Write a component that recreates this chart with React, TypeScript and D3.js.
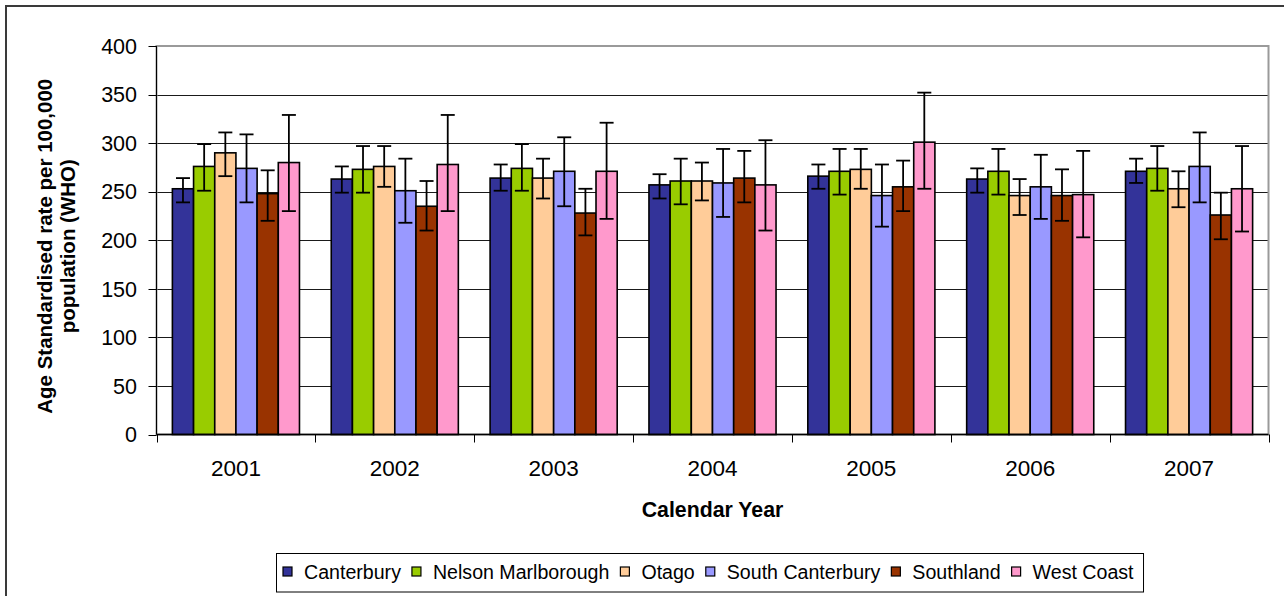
import React, { useEffect, useRef } from 'react';
import * as d3 from 'd3';

const years = ['2001', '2002', '2003', '2004', '2005', '2006', '2007'];
const seriesNames = ['Canterbury', 'Nelson Marlborough', 'Otago', 'South Canterbury', 'Southland', 'West Coast'];
const seriesColors = ['#333399', '#99CC00', '#FFCC99', '#9999FF', '#993300', '#FF99CC'];

const canterbury = [253, 263, 264, 257, 266, 263, 271];
const canterburyLow = [239, 249, 251, 243, 253, 249, 259];
const canterburyHigh = [264, 276, 278, 268, 278, 274, 284];

const nelsonMarlborough = [276, 273, 274, 261, 271, 271, 274];
const nelsonMarlboroughLow = [251, 249, 251, 237, 247, 247, 251];
const nelsonMarlboroughHigh = [299, 297, 299, 284, 294, 294, 297];

const otago = [290, 276, 264, 261, 273, 246, 253];
const otagoLow = [266, 255, 243, 241, 253, 226, 234];
const otagoHigh = [311, 297, 284, 280, 294, 263, 271];

const southCanterbury = [274, 251, 271, 259, 246, 255, 276];
const southCanterburyLow = [239, 218, 235, 224, 214, 222, 239];
const southCanterburyHigh = [309, 284, 306, 294, 278, 288, 311];

const southland = [248, 235, 228, 264, 255, 246, 226];
const southlandLow = [220, 210, 205, 239, 230, 220, 201];
const southlandHigh = [272, 261, 253, 292, 282, 273, 249];

const westCoast = [280, 278, 271, 257, 301, 247, 253];
const westCoastLow = [230, 230, 222, 210, 253, 203, 209];
const westCoastHigh = [329, 329, 321, 303, 352, 292, 297];

const yTicks = [0, 50, 100, 150, 200, 250, 300, 350, 400];

const seriesValues = [canterbury, nelsonMarlborough, otago, southCanterbury, southland, westCoast];
const seriesLow = [canterburyLow, nelsonMarlboroughLow, otagoLow, southCanterburyLow, southlandLow, westCoastLow];
const seriesHigh = [canterburyHigh, nelsonMarlboroughHigh, otagoHigh, southCanterburyHigh, southlandHigh, westCoastHigh];

const FONT = 'Liberation Sans, Arial, Helvetica, sans-serif';

export default function App() {
  const ref = useRef<SVGSVGElement>(null);

  useEffect(() => {
    const svg = d3.select(ref.current);
    svg.selectAll('*').remove();

    const left = 156.5, right = 1268.5, top = 46, bottom = 434.5;

    const x0 = d3.scaleBand<string>().domain(years).range([left, right]).paddingInner(0).paddingOuter(0);
    const x1 = d3.scaleBand<string>().domain(seriesNames).range([0, x0.bandwidth()]).paddingInner(0).paddingOuter(0.75);
    const y = d3.scaleLinear().domain([0, 400]).range([bottom, top]);

    svg.append('rect').attr('x', 0).attr('y', 0).attr('width', 1284).attr('height', 596).attr('fill', '#fff');
    // outer chart border
    svg.append('rect').attr('x', 6).attr('y', 6).attr('width', 1300).attr('height', 620)
      .attr('fill', 'none').attr('stroke', '#3a3a3a').attr('stroke-width', 2);

    // gridlines
    svg.append('g').selectAll('line').data(yTicks.filter(t => t > 0 && t < 400)).join('line')
      .attr('x1', left).attr('x2', right)
      .attr('y1', d => Math.round(y(d)) + 0.5).attr('y2', d => Math.round(y(d)) + 0.5)
      .attr('stroke', '#1a1a1a').attr('stroke-width', 1);

    // plot area border (grey)
    svg.append('rect').attr('x', left).attr('y', top).attr('width', right - left).attr('height', bottom - top)
      .attr('fill', 'none').attr('stroke', '#9a9a9a').attr('stroke-width', 2);

    // bars
    const groups = svg.append('g').selectAll('g').data(years).join('g')
      .attr('transform', d => `translate(${x0(d)},0)`);

    groups.each(function (yr, yi) {
      const g = d3.select(this);
      seriesNames.forEach((name, si) => {
        const v = seriesValues[si][yi];
        const bx = x1(name)!;
        g.append('rect')
          .attr('x', bx).attr('y', y(v))
          .attr('width', x1.bandwidth()).attr('height', y(0) - y(v))
          .attr('fill', seriesColors[si]).attr('stroke', '#000').attr('stroke-width', 1.6);
      });
      seriesNames.forEach((name, si) => {
        const cx = x1(name)! + x1.bandwidth() / 2;
        const lo = y(seriesLow[si][yi]);
        const hi = y(seriesHigh[si][yi]);
        g.append('line').attr('x1', cx).attr('x2', cx).attr('y1', lo).attr('y2', hi)
          .attr('stroke', '#000').attr('stroke-width', 1.8);
        [lo, hi].forEach(yy => {
          g.append('line').attr('x1', cx - 7).attr('x2', cx + 7).attr('y1', yy).attr('y2', yy)
            .attr('stroke', '#000').attr('stroke-width', 1.8);
        });
      });
    });

    // axes
    svg.append('line').attr('x1', left).attr('x2', left).attr('y1', top).attr('y2', bottom)
      .attr('stroke', '#000').attr('stroke-width', 1);
    svg.append('line').attr('x1', left).attr('x2', right).attr('y1', bottom).attr('y2', bottom)
      .attr('stroke', '#000').attr('stroke-width', 1.5);

    // y ticks
    const yAxis = svg.append('g');
    yAxis.selectAll('line').data(yTicks).join('line')
      .attr('x1', left - 8).attr('x2', left)
      .attr('y1', d => Math.round(y(d)) + 0.5).attr('y2', d => Math.round(y(d)) + 0.5)
      .attr('stroke', '#000').attr('stroke-width', 1);
    yAxis.selectAll('text').data(yTicks).join('text')
      .attr('x', 137).attr('y', d => y(d)).attr('dy', '0.36em')
      .attr('text-anchor', 'end').attr('font-family', FONT).attr('font-size', 21.5).attr('fill', '#000')
      .text(d => String(d));

    // x ticks
    const xAxis = svg.append('g');
    const tickXs = years.map(yr => x0(yr)!).concat([right]);
    xAxis.selectAll('line').data(tickXs).join('line')
      .attr('x1', d => Math.round(d) + 0.5).attr('x2', d => Math.round(d) + 0.5)
      .attr('y1', bottom).attr('y2', bottom + 8)
      .attr('stroke', '#000').attr('stroke-width', 1);
    xAxis.selectAll('text').data(years).join('text')
      .attr('x', d => x0(d)! + x0.bandwidth() / 2).attr('y', 476)
      .attr('text-anchor', 'middle').attr('font-family', FONT).attr('font-size', 22.5).attr('fill', '#000')
      .text(d => d);

    // axis titles
    svg.append('text').attr('x', (left + right) / 2).attr('y', 517)
      .attr('text-anchor', 'middle').attr('font-family', FONT).attr('font-size', 21.3)
      .attr('font-weight', 'bold').text('Calendar Year');

    const yt = svg.append('text').attr('transform', `translate(0,${(top + bottom) / 2 + 6}) rotate(-90)`)
      .attr('text-anchor', 'middle').attr('font-family', FONT).attr('font-size', 20.5).attr('font-weight', 'bold');
    yt.append('tspan').attr('x', 0).attr('y', 52).text('Age Standardised rate per 100,000');
    yt.append('tspan').attr('x', 0).attr('y', 75).text('population (WHO)');

    // legend
    const lg = svg.append('g');
    let cx = 283;
    const ly = 572;
    const gap = 11;
    seriesNames.forEach((name, si) => {
      lg.append('rect').attr('x', cx).attr('y', ly - 5).attr('width', 9).attr('height', 9)
        .attr('fill', seriesColors[si]).attr('stroke', '#000').attr('stroke-width', 1.2);
      const t = lg.append('text').attr('x', cx + 21).attr('y', ly).attr('dy', '0.36em')
        .attr('font-family', FONT).attr('font-size', 19.6).attr('fill', '#000').text(name);
      const w = (t.node() as SVGTextElement).getComputedTextLength();
      cx = cx + 21 + w + gap;
    });
    const endX = cx - gap + 10;
    lg.insert('rect', ':first-child').attr('x', 276.5).attr('y', 553.5).attr('width', endX - 276.5).attr('height', 38.5)
      .attr('fill', '#fff').attr('stroke', '#000').attr('stroke-width', 1);
  }, []);

  return (
    <svg ref={ref} width={1284} height={596}
      style={{ position: 'absolute', left: 0, top: 0, display: 'block', background: '#fff' }} />
  );
}
